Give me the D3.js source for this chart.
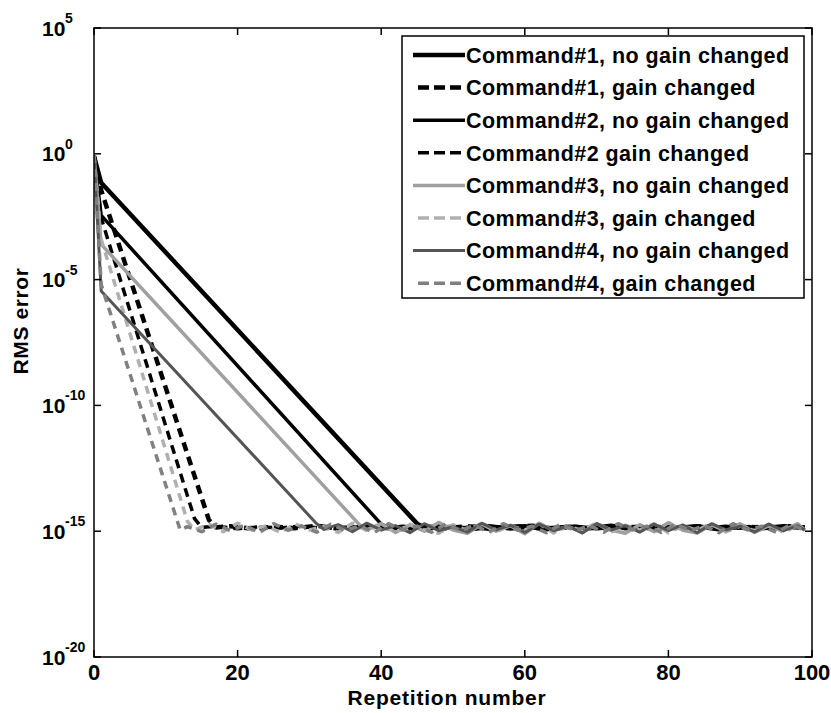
<!DOCTYPE html>
<html>
<head>
<meta charset="utf-8">
<script src="https://cdn.jsdelivr.net/npm/d3@7"></script>
<style>
  body { margin: 0; background: #fff; }
  svg { display: block; }
  text { font-family: "Liberation Sans", Arial, sans-serif; font-weight: bold; fill: #000; }
</style>
</head>
<body>
<svg id="chart" width="831" height="713"></svg>
<script>
// [repetition, log10(RMS error)]
const cmd1NoGain = [[0,-0.1],[1,-1.15],[45,-14.7],[46,-14.85],[48,-14.8],[51,-14.9],[54,-14.78],[57,-14.86],[60,-14.8],[63,-14.92],[66,-14.82],[69,-14.88],[72,-14.78],[75,-14.9],[78,-14.83],[81,-14.87],[84,-14.8],[87,-14.92],[90,-14.82],[93,-14.88],[96,-14.8],[99,-14.86]];
const cmd1Gain = [[0,-0.1],[1,-1.45],[16,-14.55],[17,-14.85],[19,-14.8],[22,-14.9],[25,-14.82],[28,-14.88],[31,-14.78],[34,-14.9],[37,-14.84],[40,-14.8],[43,-14.92],[46,-14.82],[49,-14.88],[52,-14.8],[55,-14.9],[58,-14.84],[61,-14.78],[64,-14.9],[67,-14.83],[70,-14.87],[73,-14.8],[76,-14.92],[79,-14.82],[82,-14.86],[85,-14.8],[88,-14.9],[91,-14.83],[94,-14.87],[97,-14.8],[99,-14.88]];
const cmd2NoGain = [[0,-0.1],[1,-2.45],[40,-14.72],[41,-14.86],[43,-14.8],[46,-14.9],[49,-14.82],[52,-14.87],[55,-14.79],[58,-14.91],[61,-14.83],[64,-14.86],[67,-14.8],[70,-14.9],[73,-14.84],[76,-14.8],[79,-14.9],[82,-14.82],[85,-14.88],[88,-14.8],[91,-14.9],[94,-14.84],[97,-14.87],[99,-14.82]];
const cmd2Gain = [[0,-0.1],[1,-2.55],[14,-14.5],[15,-14.85],[17,-14.8],[20,-14.9],[23,-14.83],[26,-14.87],[29,-14.79],[32,-14.9],[35,-14.84],[38,-14.8],[41,-14.9],[44,-14.83],[47,-14.88],[50,-14.8],[53,-14.92],[56,-14.84],[59,-14.8],[62,-14.9],[65,-14.83],[68,-14.87],[71,-14.8],[74,-14.9],[77,-14.84],[80,-14.8],[83,-14.9],[86,-14.83],[89,-14.87],[92,-14.8],[95,-14.9],[98,-14.84],[99,-14.86]];
const cmd3NoGain = [[0,-0.05],[1,-3.6],[37,-14.75],[38,-14.95],[40,-14.7],[42,-15.05],[44,-14.75],[46,-15.0],[48,-14.65],[50,-14.95],[52,-15.08],[54,-14.72],[56,-15.0],[58,-14.78],[60,-15.1],[62,-14.68],[64,-14.98],[66,-14.8],[68,-15.06],[70,-14.7],[72,-14.95],[74,-15.08],[76,-14.74],[78,-15.02],[80,-14.66],[82,-14.96],[84,-15.07],[86,-14.75],[88,-15.0],[90,-14.7],[92,-15.05],[94,-14.78],[96,-14.98],[98,-14.7],[99,-14.95]];
const cmd3Gain = [[0,-0.05],[1,-3.4],[13,-14.6],[14,-14.95],[16,-14.72],[18,-15.02],[20,-14.68],[22,-14.96],[24,-14.78],[26,-15.06],[28,-14.7],[30,-14.95],[32,-14.82],[34,-15.05],[36,-14.68],[38,-14.98],[40,-14.76],[42,-15.04],[44,-14.72],[46,-14.95],[48,-15.08],[50,-14.74],[52,-14.98],[54,-14.68],[56,-15.02],[58,-14.78],[60,-14.96],[62,-14.7],[64,-15.07],[66,-14.8],[68,-14.98],[70,-14.66],[72,-15.04],[74,-14.76],[76,-14.96],[78,-14.7],[80,-15.06],[82,-14.78],[84,-14.97],[86,-14.68],[88,-15.03],[90,-14.8],[92,-14.98],[94,-14.72],[96,-15.05],[98,-14.78],[99,-14.95]];
const cmd4NoGain = [[0,-0.05],[1,-5.45],[31,-14.7],[32,-14.92],[34,-14.74],[36,-15.02],[38,-14.68],[40,-14.96],[42,-14.78],[44,-15.06],[46,-14.7],[48,-14.98],[50,-14.82],[52,-15.04],[54,-14.68],[56,-14.95],[58,-14.76],[60,-15.05],[62,-14.72],[64,-14.98],[66,-14.8],[68,-15.07],[70,-14.7],[72,-14.96],[74,-14.78],[76,-15.04],[78,-14.72],[80,-14.98],[82,-14.75],[84,-15.06],[86,-14.7],[88,-14.95],[90,-14.8],[92,-15.03],[94,-14.72],[96,-14.98],[98,-14.78],[99,-14.95]];
const cmd4Gain = [[0,-0.05],[1,-5.2],[12,-14.95],[13,-14.82],[15,-15.02],[17,-14.72],[19,-14.98],[21,-14.76],[23,-15.06],[25,-14.7],[27,-14.96],[29,-14.8],[31,-15.04],[33,-14.72],[35,-14.98],[37,-14.78],[39,-15.06],[41,-14.7],[43,-14.95],[45,-14.8],[47,-15.04],[49,-14.72],[51,-14.98],[53,-14.76],[55,-15.05],[57,-14.7],[59,-14.96],[61,-14.8],[63,-15.06],[65,-14.72],[67,-14.98],[69,-14.78],[71,-15.04],[73,-14.7],[75,-14.95],[77,-14.8],[79,-15.05],[81,-14.72],[83,-14.98],[85,-14.78],[87,-15.06],[89,-14.7],[91,-14.95],[93,-14.8],[95,-15.04],[97,-14.74],[99,-14.96]];

const seriesNames = [
    "Command#1, no gain changed",
    "Command#1, gain changed",
    "Command#2, no gain changed",
    "Command#2 gain changed",
    "Command#3, no gain changed",
    "Command#3, gain changed",
    "Command#4, no gain changed",
    "Command#4, gain changed"
];
const seriesData = [cmd1NoGain, cmd1Gain, cmd2NoGain, cmd2Gain, cmd3NoGain, cmd3Gain, cmd4NoGain, cmd4Gain];

const xTicks = [0, 20, 40, 60, 80, 100];
const yTickExps = [5, 0, -5, -10, -15, -20];

// line looks per series
const styles = [
    {color: "#000", width: 4.5, dash: null},
    {color: "#000", width: 4.5, dash: "9,6"},
    {color: "#000", width: 3.5, dash: null},
    {color: "#000", width: 3.5, dash: "9,6"},
    {color: "#a0a0a0", width: 3.5, dash: null},
    {color: "#b0b0b0", width: 3.5, dash: "8,6"},
    {color: "#555", width: 3, dash: null},
    {color: "#808080", width: 3.5, dash: "8,6"}
];

const svg = d3.select("#chart");
const width = +svg.attr("width");
const height = +svg.attr("height");
const margin = {top: 28, right: 19, bottom: 56, left: 94};
const plotW = width - margin.left - margin.right;
const plotH = height - margin.top - margin.bottom;

const x = d3.scaleLinear().domain([0, 100]).range([margin.left, margin.left + plotW]);
const y = d3.scaleLog().domain([1e-20, 1e5]).range([margin.top + plotH, margin.top]);

svg.append("defs").append("clipPath").attr("id", "plotclip")
    .append("rect")
    .attr("x", margin.left).attr("y", margin.top)
    .attr("width", plotW).attr("height", plotH);

const line = d3.line()
    .x(d => x(d[0]))
    .y(d => y(Math.pow(10, d[1])));

const plot = svg.append("g").attr("clip-path", "url(#plotclip)");
seriesData.forEach((data, i) => {
    plot.append("path")
        .datum(data)
        .attr("d", line)
        .attr("fill", "none")
        .attr("stroke", styles[i].color)
        .attr("stroke-width", styles[i].width)
        .attr("stroke-dasharray", styles[i].dash)
        .attr("stroke-linejoin", "round");
});

// box + ticks on all sides
const tickLen = 7;
const axes = svg.append("g").attr("stroke", "#000").attr("stroke-width", 1.5);
axes.append("rect")
    .attr("x", margin.left).attr("y", margin.top)
    .attr("width", plotW).attr("height", plotH)
    .attr("fill", "none");

xTicks.forEach(t => {
    axes.append("line").attr("x1", x(t)).attr("x2", x(t))
        .attr("y1", margin.top + plotH).attr("y2", margin.top + plotH - tickLen);
    axes.append("line").attr("x1", x(t)).attr("x2", x(t))
        .attr("y1", margin.top).attr("y2", margin.top + tickLen);
});
yTickExps.forEach(e => {
    const yy = y(Math.pow(10, e));
    axes.append("line").attr("x1", margin.left).attr("x2", margin.left + tickLen)
        .attr("y1", yy).attr("y2", yy);
    axes.append("line").attr("x1", margin.left + plotW).attr("x2", margin.left + plotW - tickLen)
        .attr("y1", yy).attr("y2", yy);
});

// tick labels
svg.append("g").selectAll("text")
    .data(xTicks)
    .enter()
    .append("text")
    .attr("x", d => x(d))
    .attr("y", margin.top + plotH + 23)
    .attr("text-anchor", "middle")
    .attr("font-size", 22)
    .text(d => d);

const yLabels = svg.append("g");
yTickExps.forEach(e => {
    const yy = y(Math.pow(10, e));
    yLabels.append("text")
        .attr("x", 42)
        .attr("y", yy + 7.5)
        .attr("font-size", 21)
        .text("10");
    yLabels.append("text")
        .attr("x", 65)
        .attr("y", yy - 5)
        .attr("font-size", 14)
        .text(e);
});

// axis titles
svg.append("text")
    .attr("x", margin.left + plotW / 2 - 6)
    .attr("y", 705)
    .attr("text-anchor", "middle")
    .attr("font-size", 21)
    .attr("letter-spacing", 0.8)
    .text("Repetition number");

svg.append("text")
    .attr("transform", "translate(28, 321) rotate(-90)")
    .attr("text-anchor", "middle")
    .attr("font-size", 21)
    .attr("letter-spacing", 0.6)
    .text("RMS error");

// legend
const legend = svg.append("g");
legend.append("rect")
    .attr("x", 402).attr("y", 36)
    .attr("width", 402).attr("height", 262)
    .attr("fill", "#fff")
    .attr("stroke", "#000")
    .attr("stroke-width", 1.5);

const rowH = 32.6;
seriesNames.forEach((name, i) => {
    const cy = 55 + i * rowH;
    legend.append("line")
        .attr("x1", styles[i].dash ? 418 : 413).attr("x2", 465)
        .attr("y1", cy).attr("y2", cy)
        .attr("stroke", styles[i].color)
        .attr("stroke-width", styles[i].width)
        .attr("stroke-dasharray", styles[i].dash ? "11,5" : null);
    legend.append("text")
        .attr("x", 466)
        .attr("y", cy)
        .attr("dy", "0.36em")
        .attr("font-size", 21.5)
        .attr("letter-spacing", 0.45)
        .text(name);
});
</script>
</body>
</html>
